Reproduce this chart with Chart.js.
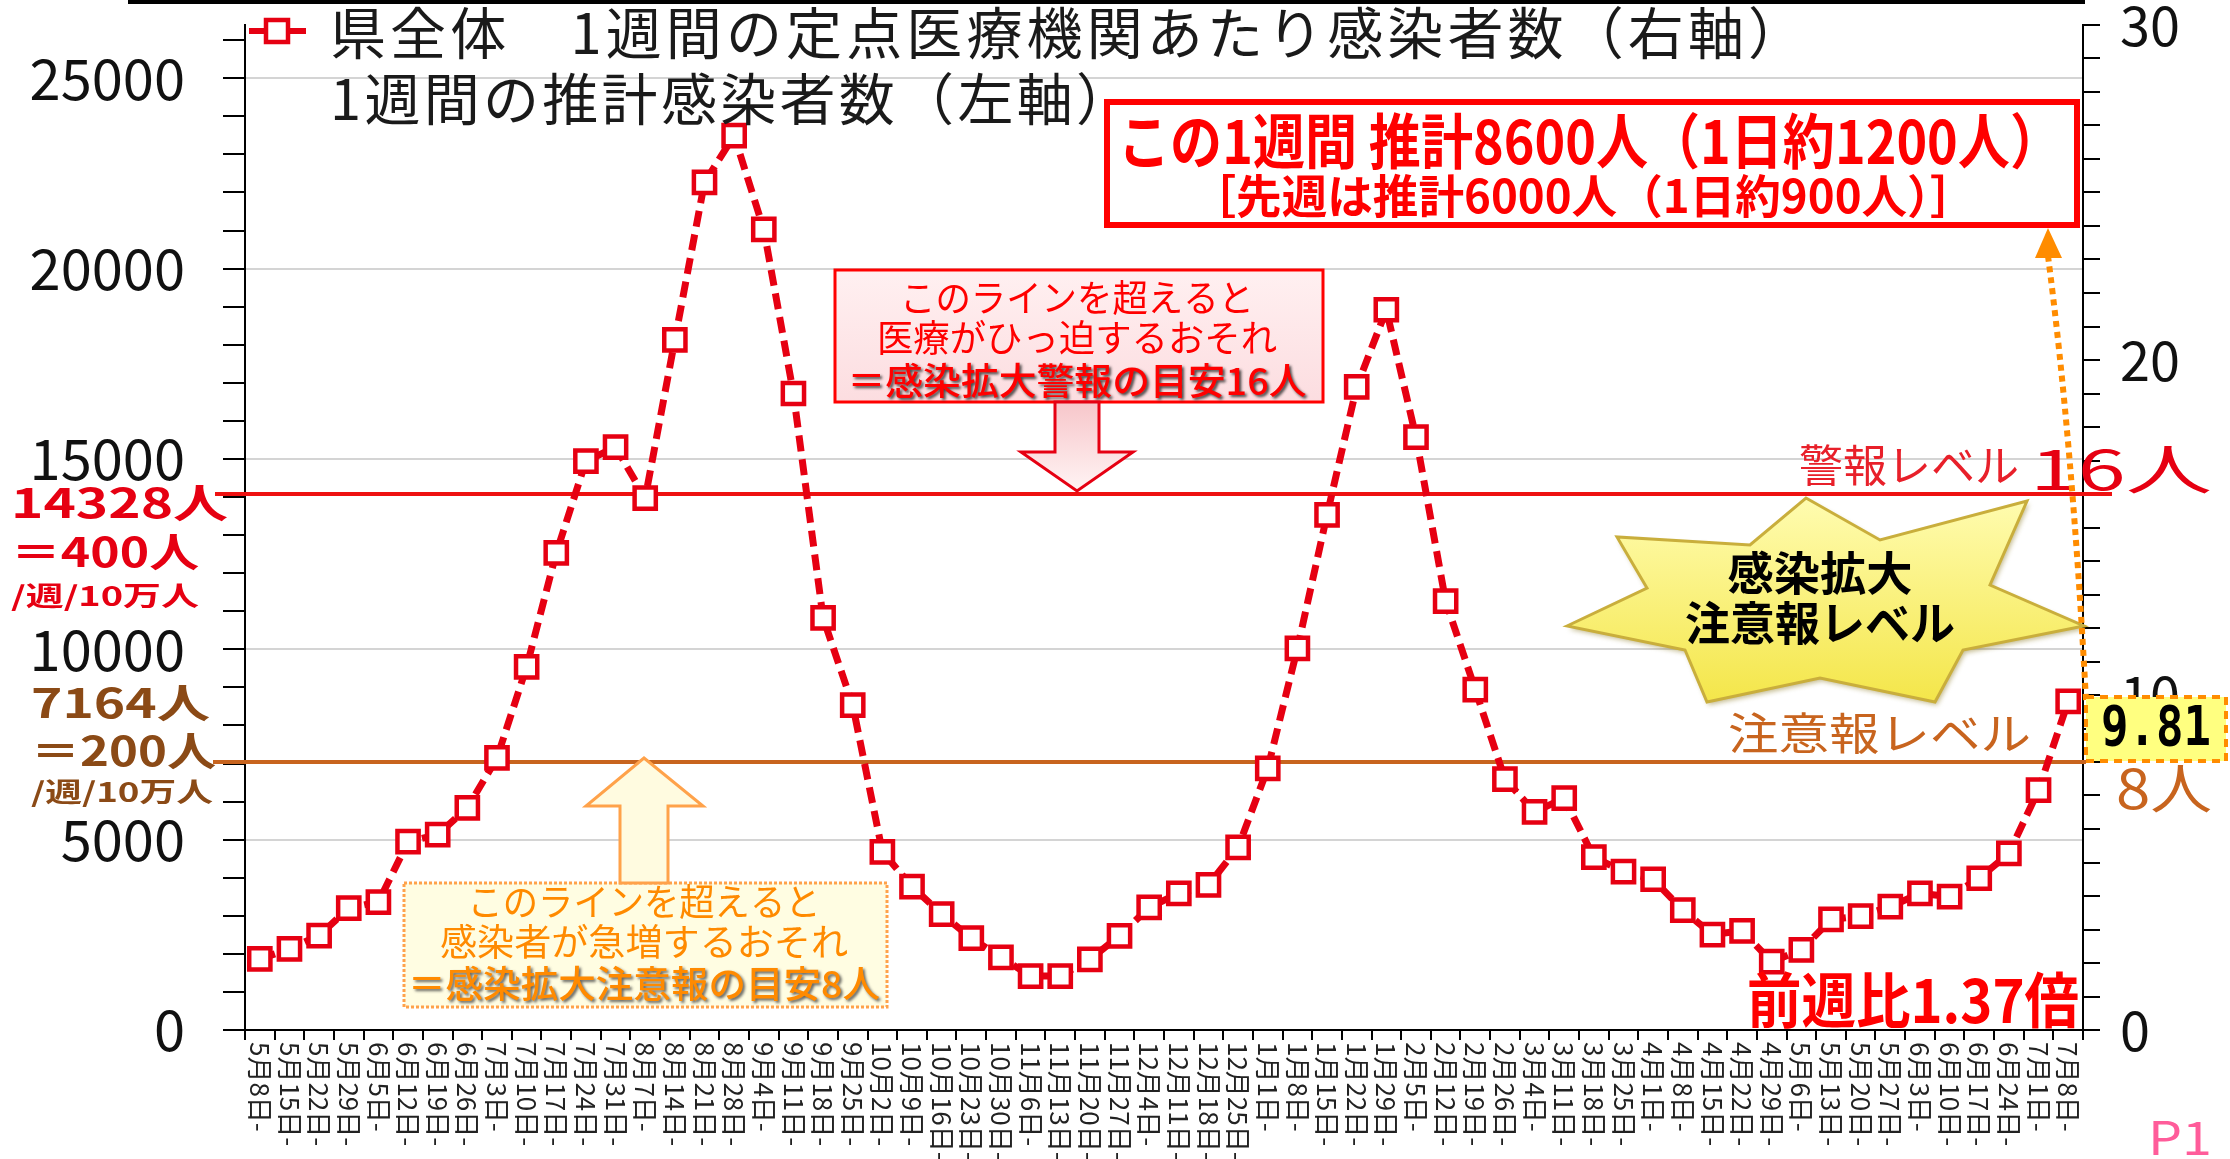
<!DOCTYPE html>
<html><head><meta charset="utf-8">
<script src="https://cdn.jsdelivr.net/npm/chart.js@4.4.1/dist/chart.umd.min.js"></script>
<style>html,body{margin:0;padding:0;background:#fff;}#wrap{width:2230px;height:1159px;}</style>
</head><body><div id="wrap"><canvas id="c" width="2230" height="1159"></canvas></div>
<script>
const categories = ['5月8日-','5月15日-','5月22日-','5月29日-','6月5日-','6月12日-','6月19日-','6月26日-','7月3日-','7月10日-','7月17日-','7月24日-','7月31日-','8月7日-','8月14日-','8月21日-','8月28日-','9月4日-','9月11日-','9月18日-','9月25日-','10月2日-','10月9日-','10月16日-','10月23日-','10月30日-','11月6日-','11月13日-','11月20日-','11月27日-','12月4日-','12月11日-','12月18日-','12月25日-','1月1日-','1月8日-','1月15日-','1月22日-','1月29日-','2月5日-','2月12日-','2月19日-','2月26日-','3月4日-','3月11日-','3月18日-','3月25日-','4月1日-','4月8日-','4月15日-','4月22日-','4月29日-','5月6日-','5月13日-','5月20日-','5月27日-','6月3日-','6月10日-','6月17日-','6月24日-','7月1日-','7月8日-'];
const perSentinel = [2.12,2.42,2.82,3.64,3.82,5.62,5.83,6.63,8.12,10.84,14.24,16.98,17.4,15.88,20.6,25.3,26.7,23.9,19.0,12.3,9.70,5.32,4.28,3.46,2.74,2.17,1.61,1.61,2.11,2.81,3.66,4.08,4.33,5.45,7.81,11.39,15.38,19.2,21.5,17.7,12.8,10.16,7.49,6.51,6.92,5.16,4.73,4.50,3.58,2.85,2.96,2.04,2.39,3.30,3.40,3.68,4.08,3.98,4.53,5.27,7.16,9.81];
const leftTickValues = [0,1000,2000,3000,4000,5000,6000,7000,8000,9000,10000,11000,12000,13000,14000,15000,16000,17000,18000,19000,20000,21000,22000,23000,24000,25000,26000];
const leftTickLabels = [0,5000,10000,15000,20000,25000];
const rightTickLabels = [0,10,20,30];
const alertLevel = 16;
const cautionLevel = 8;
const seriesLabel = '県全体　1週間の定点医療機関あたり感染者数（右軸）';
const series2Label = '1週間の推計感染者数（左軸）';

const JP = '"Noto Sans CJK JP", "Noto Sans", sans-serif';
const RED = '#e60012';

function fitText(ctx, text, cx, cy, font, color, w, shadow) {
  ctx.save();
  ctx.font = font; ctx.fillStyle = color; ctx.textAlign = 'center'; ctx.textBaseline = 'middle';
  const m = ctx.measureText(text).width;
  ctx.translate(cx, cy); ctx.scale(w / m, 1);
  if (shadow) { ctx.shadowColor = shadow; ctx.shadowBlur = 3; ctx.shadowOffsetX = 2; ctx.shadowOffsetY = 2; }
  ctx.fillText(text, 0, 0);
  ctx.restore();
}
function fitLeft(ctx, text, x0, cy, font, color, w, shadow) { fitText(ctx, text, x0 + w / 2, cy, font, color, w, shadow); }
function spaced(ctx, text, x0, cy, font, color, w) {
  ctx.save();
  ctx.font = font; ctx.fillStyle = color; ctx.textAlign = 'left'; ctx.textBaseline = 'middle';
  const m = ctx.measureText(text).width; const n = [...text].length;
  if ('letterSpacing' in ctx) { ctx.letterSpacing = ((w - m) / (n - 1)) + 'px'; ctx.fillText(text, x0, cy); }
  else { ctx.translate(x0, cy); ctx.scale(w / m, 1); ctx.fillText(text, 0, 0); }
  ctx.restore();
}
function poly(ctx, pts, fill, stroke, lw) {
  ctx.beginPath(); ctx.moveTo(pts[0][0], pts[0][1]);
  for (let i = 1; i < pts.length; i++) ctx.lineTo(pts[i][0], pts[i][1]);
  ctx.closePath();
  if (fill) { ctx.fillStyle = fill; ctx.fill(); }
  if (stroke) { ctx.strokeStyle = stroke; ctx.lineWidth = lw; ctx.stroke(); }
}

const deco = {
  id: 'deco',
  beforeDatasetsDraw(chart) {
    const ctx = chart.ctx, y1 = chart.scales.y1;
    ctx.save();
    ctx.lineWidth = 4;
    ctx.strokeStyle = '#ee1111';
    let y = y1.getPixelForValue(alertLevel);
    ctx.beginPath(); ctx.moveTo(215, y); ctx.lineTo(2112, y); ctx.stroke();
    ctx.strokeStyle = '#c8641e';
    y = y1.getPixelForValue(cautionLevel);
    ctx.beginPath(); ctx.moveTo(213, y); ctx.lineTo(2086, y); ctx.stroke();
    ctx.restore();
  },
  afterDraw(chart) {
    const ctx = chart.ctx, x = chart.scales.x;
    ctx.save();
    ctx.fillStyle = '#000'; ctx.fillRect(128, 0, 1957, 4);
    ctx.font = '26px ' + JP; ctx.fillStyle = '#222'; ctx.textAlign = 'left'; ctx.textBaseline = 'middle';
    categories.forEach((c, i) => {
      const px = x.getPixelForTick(i);
      ctx.save(); ctx.translate(px, 1042); ctx.rotate(Math.PI / 2); ctx.fillText(c, 0, 0); ctx.restore();
    });
    // legend
    ctx.strokeStyle = RED; ctx.lineWidth = 6; ctx.setLineDash([]);
    ctx.beginPath(); ctx.moveTo(249, 31); ctx.lineTo(306, 31); ctx.stroke();
    ctx.fillStyle = '#fff'; ctx.lineWidth = 4.5;
    ctx.fillRect(266, 20, 22, 22); ctx.strokeRect(266, 20, 22, 22);
    spaced(ctx, seriesLabel, 330, 33, '56px ' + JP, '#1a1a1a', 1474);
    spaced(ctx, series2Label, 330, 99, '56px ' + JP, '#1a1a1a', 802);

    // left labels
    fitLeft(ctx, '14328人', 11, 503, 'bold 40px ' + JP, RED, 217);
    fitLeft(ctx, '＝400人', 11, 552, 'bold 40px ' + JP, RED, 188);
    fitLeft(ctx, '/週/10万人', 11, 596, 'bold 27px ' + JP, RED, 188);
    const BR = '#8b4a16';
    fitLeft(ctx, '7164人', 31, 703, 'bold 40px ' + JP, BR, 179);
    fitLeft(ctx, '＝200人', 31, 751, 'bold 40px ' + JP, BR, 185);
    fitLeft(ctx, '/週/10万人', 31, 792, 'bold 27px ' + JP, BR, 182);

    // red summary box
    ctx.fillStyle = '#fff'; ctx.fillRect(1107, 102, 970, 123);
    ctx.strokeStyle = '#ff0000'; ctx.lineWidth = 6; ctx.strokeRect(1107, 102, 970, 123);
    fitText(ctx, 'この1週間 推計8600人（1日約1200人）', 1590, 141, 'bold 60px ' + JP, '#ff0000', 944);
    fitText(ctx, '［先週は推計6000人（1日約900人）］', 1583, 196, 'bold 46px ' + JP, '#ff0000', 785);

    // pink alert box
    let g = ctx.createLinearGradient(0, 270, 0, 402);
    g.addColorStop(0, '#fff0f1'); g.addColorStop(1, '#fcdde0');
    ctx.fillStyle = g; ctx.fillRect(835, 270, 488, 132);
    ctx.strokeStyle = '#ff0000'; ctx.lineWidth = 3; ctx.strokeRect(835, 270, 488, 132);
    fitText(ctx, 'このラインを超えると', 1077, 298, '37px ' + JP, '#ff0000', 354);
    fitText(ctx, '医療がひっ迫するおそれ', 1077, 338, '37px ' + JP, '#ff0000', 400);
    fitText(ctx, '＝感染拡大警報の目安16人', 1077, 381, '500 37px ' + JP, '#ff0000', 459, 'rgba(40,40,40,0.85)');
    g = ctx.createLinearGradient(0, 402, 0, 491);
    g.addColorStop(0, '#f7c6ca'); g.addColorStop(1, '#fff4f4');
    poly(ctx, [[1055,402],[1099,402],[1099,452],[1133,452],[1077,491],[1021,452],[1055,452]], g, '#e60012', 3);

    // orange caution box
    ctx.fillStyle = '#fffde2'; ctx.fillRect(404, 883, 483, 124);
    ctx.strokeStyle = '#ffa24a'; ctx.lineWidth = 3; ctx.setLineDash([3, 2]); ctx.strokeRect(404, 883, 483, 124); ctx.setLineDash([]);
    fitText(ctx, 'このラインを超えると', 644, 902, '37px ' + JP, '#ff8a00', 353);
    fitText(ctx, '感染者が急増するおそれ', 644, 942, '37px ' + JP, '#ff8a00', 408);
    fitText(ctx, '＝感染拡大注意報の目安8人', 644, 984, '500 37px ' + JP, '#ff8a00', 472, 'rgba(60,60,60,0.8)');
    poly(ctx, [[644,758],[703,806],[668,806],[668,883],[620,883],[620,806],[586,806]], '#fffbe0', '#ffa24a', 3);

    // star
    const star = [[1567,626],[1647,588],[1617,537],[1750,545],[1806,498],[1880,540],[2027,501],[1990,585],[2084,626],[1963,650],[1935,702],[1820,678],[1707,702],[1685,650]];
    g = ctx.createLinearGradient(0, 498, 0, 702);
    g.addColorStop(0, '#fffcb0'); g.addColorStop(1, '#f4e64a');
    ctx.save(); ctx.shadowColor = 'rgba(120,100,0,0.45)'; ctx.shadowBlur = 5; ctx.shadowOffsetX = 2; ctx.shadowOffsetY = 3;
    poly(ctx, star, g, null, 0);
    ctx.restore();
    poly(ctx, star, null, '#c9ae3c', 3);
    fitText(ctx, '感染拡大', 1820, 573, 'bold 46px ' + JP, '#000', 185);
    fitText(ctx, '注意報レベル', 1820, 623, 'bold 46px ' + JP, '#000', 270);

    // level labels
    fitLeft(ctx, '警報レベル', 1799, 465, '44px ' + JP, '#e8202a', 220);
    fitLeft(ctx, '16人', 2030, 469, '54px ' + JP, '#e60012', 182);
    fitLeft(ctx, '注意報レベル', 1728, 733, '44px ' + JP, '#c8641e', 303);
    fitLeft(ctx, '8人', 2116, 788, '54px ' + JP, '#c8641e', 96);

    // dotted orange arrow
    ctx.strokeStyle = '#ff8c00'; ctx.lineWidth = 6; ctx.setLineDash([6, 5]);
    ctx.beginPath(); ctx.moveTo(2086, 700); ctx.quadraticCurveTo(2072, 440, 2048, 256); ctx.stroke();
    ctx.setLineDash([]);
    poly(ctx, [[2048,228],[2035,258],[2062,258]], '#ff8c00', null, 0);

    // 9.81 box
    ctx.fillStyle = '#ffff80'; ctx.fillRect(2086, 697, 140, 64);
    ctx.strokeStyle = '#ff8c00'; ctx.lineWidth = 4; ctx.setLineDash([8, 6]); ctx.strokeRect(2086, 697, 140, 64); ctx.setLineDash([]);
    fitText(ctx, '9.81', 2156, 730, 'bold 56px "DejaVu Sans Mono", monospace', '#000', 110);

    fitText(ctx, '前週比1.37倍', 1913, 1000, 'bold 60px ' + JP, '#ff0000', 332);
    fitText(ctx, 'P1', 2180, 1138, '46px ' + JP, '#ff5c9a', 64);
    ctx.restore();
  }
};

new Chart(document.getElementById('c'), {
  type: 'line',
  data: {
    labels: categories,
    datasets: [{
      label: seriesLabel,
      data: perSentinel,
      yAxisID: 'y1',
      borderColor: RED,
      borderWidth: 7,
      borderDash: [16, 8],
      pointStyle: 'rect',
      pointRadius: 15,
      pointBorderWidth: 4.5,
      pointBackgroundColor: '#fff',
      pointBorderColor: RED,
      tension: 0,
      fill: false
    }]
  },
  options: {
    responsive: false,
    animation: false,
    devicePixelRatio: 1,
    layout: { padding: { top: 25, left: 0, right: 0, bottom: 0 } },
    plugins: { legend: { display: false }, tooltip: { enabled: false } },
    scales: {
      x: {
        type: 'category', offset: true,
        grid: { offset: true, drawOnChartArea: false, color: '#000', tickColor: '#000', tickLength: 10, lineWidth: 2 },
        border: { color: '#000', width: 2 },
        ticks: { display: false, autoSkip: false },
        afterFit(s) { s.height = 129; s.paddingLeft = 0; s.paddingRight = 0; }
      },
      y: {
        position: 'left', min: 0, max: 26400,
        ticks: { autoSkip: false, padding: 38, color: '#111',
          font: { size: 56, family: '"Liberation Sans Narrow", ' + JP },
          callback: v => leftTickLabels.includes(v) ? String(v) : '' },
        grid: { color: c => (c.tick && c.tick.value > 0 && c.tick.value % 5000 === 0) ? '#d4d4d4' : 'rgba(0,0,0,0)',
          tickColor: '#000', tickLength: 22, lineWidth: 2 },
        border: { color: '#000', width: 2 },
        afterBuildTicks(s) { s.ticks = leftTickValues.map(v => ({ value: v })); },
        afterFit(s) { s.width = 245; s.paddingTop = 0; s.paddingBottom = 0; }
      },
      y1: {
        position: 'right', min: 0, max: 30,
        ticks: { stepSize: 1, autoSkip: false, padding: 20, color: '#111',
          font: { size: 54, family: JP },
          callback: v => rightTickLabels.includes(v) ? String(v) : '' },
        grid: { drawOnChartArea: false, color: '#000', tickColor: '#000', tickLength: 17, lineWidth: 2 },
        border: { color: '#000', width: 2 },
        afterFit(s) { s.width = 147; s.paddingTop = 0; s.paddingBottom = 0; }
      }
    }
  },
  plugins: [deco]
});
</script></body></html>
